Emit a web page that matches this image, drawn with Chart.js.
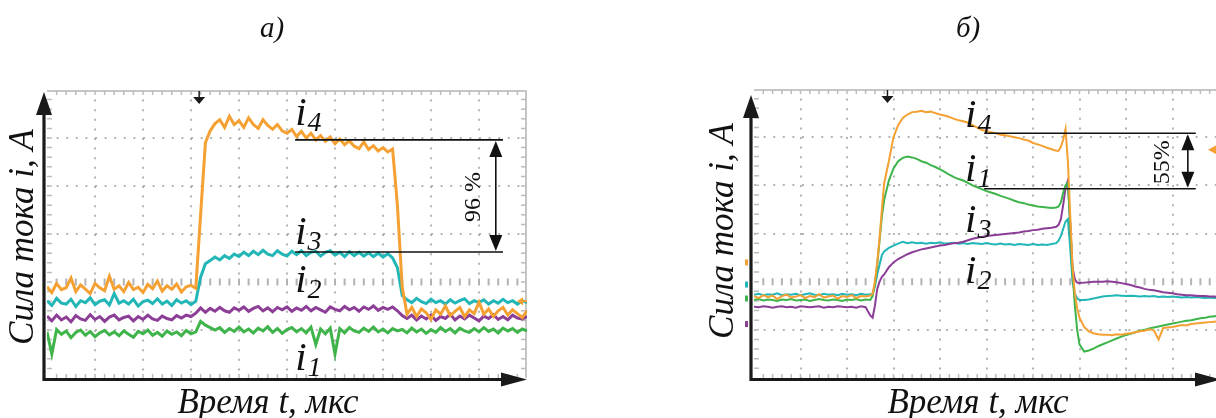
<!DOCTYPE html>
<html lang="ru"><head><meta charset="utf-8">
<script src="https://cdn.jsdelivr.net/npm/chart.js@4.4.1/dist/chart.umd.min.js"></script>
<style>
html,body{margin:0;padding:0;background:#fff;overflow:hidden;width:1216px;height:418px;position:relative}
canvas{position:absolute;top:0}
#cA{left:0}
#cB{left:700px}
</style></head><body>
<canvas id="cA" width="545" height="418"></canvas>
<canvas id="cB" width="520" height="418"></canvas>
<script>
// ---------- Panel а) : time in divisions, current in divisions ----------
const tA = Array.from({length:101}, (_, i) => Math.round(i) / 10);
const a_i4 = [1.90,1.78,1.97,1.84,1.88,2.08,1.80,1.94,1.85,1.76,1.97,1.88,1.82,2.12,1.85,1.92,1.80,1.99,1.84,1.89,1.78,1.95,1.86,2.02,1.81,1.92,1.85,1.96,1.79,1.90,1.93,1.87,
  3.40,4.90,5.15,5.30,5.38,5.22,5.45,5.28,5.36,5.22,5.42,5.28,5.20,5.38,5.26,5.18,5.28,5.15,5.10,5.18,5.03,5.14,5.00,5.10,4.96,5.05,4.93,5.02,4.88,4.98,4.86,4.94,4.83,4.78,4.92,4.76,4.84,4.73,4.80,4.71,4.77,
  3.60,1.90,1.33,1.47,1.28,1.44,1.36,1.22,1.42,1.33,1.50,1.30,1.39,1.47,1.28,1.42,1.34,1.58,1.33,1.44,1.28,1.40,1.47,1.31,1.42,1.34,1.26,1.40];
const a_i3 = [1.61,1.51,1.66,1.56,1.54,1.64,1.49,1.61,1.57,1.67,1.53,1.60,1.63,1.52,1.76,1.56,1.61,1.54,1.64,1.50,1.59,1.62,1.55,1.65,1.54,1.60,1.51,1.63,1.56,1.61,1.53,1.60,
  2.10,2.38,2.45,2.52,2.46,2.55,2.49,2.58,2.53,2.62,2.55,2.64,2.57,2.66,2.58,2.55,2.65,2.58,2.54,2.64,2.57,2.65,2.55,2.62,2.64,2.54,2.62,2.65,2.56,2.62,2.53,2.63,2.55,2.62,2.54,2.61,2.53,2.60,2.52,2.59,2.50,
  2.30,1.72,1.63,1.57,1.66,1.59,1.55,1.64,1.57,1.61,1.54,1.63,1.56,1.61,1.65,1.55,1.61,1.57,1.63,1.54,1.61,1.56,1.64,1.57,1.61,1.54,1.61,1.57];
const a_i2 = [1.29,1.19,1.31,1.21,1.27,1.17,1.30,1.23,1.20,1.32,1.22,1.28,1.18,1.27,1.31,1.21,1.26,1.29,1.19,1.28,1.22,1.31,1.23,1.20,1.29,1.24,1.21,1.30,1.25,1.31,1.28,1.35,
  1.46,1.37,1.45,1.39,1.47,1.40,1.37,1.46,1.41,1.48,1.39,1.45,1.49,1.40,1.46,1.38,1.47,1.42,1.48,1.39,1.46,1.41,1.49,1.40,1.47,1.42,1.37,1.48,1.43,1.40,1.49,1.42,1.47,1.39,1.48,1.43,1.50,1.41,1.47,1.43,1.48,
  1.40,1.30,1.24,1.31,1.21,1.29,1.23,1.31,1.20,1.28,1.24,1.33,1.21,1.29,1.23,1.31,1.25,1.19,1.29,1.24,1.32,1.22,1.28,1.21,1.31,1.25,1.23,1.28];
const a_i1 = [0.96,0.50,1.01,0.91,0.98,0.84,0.95,1.00,0.89,0.97,0.86,0.94,0.99,0.90,0.96,0.88,0.98,0.91,0.85,0.97,0.92,1.00,0.89,0.95,0.87,0.98,0.91,0.96,0.88,0.99,0.92,0.96,
  1.18,1.10,1.05,1.00,1.05,0.95,1.03,0.97,1.06,0.96,1.02,0.94,1.04,0.98,1.07,0.95,1.03,0.93,1.01,1.05,0.96,1.03,0.94,1.06,0.70,1.02,0.92,1.04,0.50,1.03,0.94,1.05,0.98,0.95,1.04,0.97,1.06,0.96,1.02,0.94,1.03,
  0.98,1.01,0.94,1.04,0.96,1.02,0.93,1.01,0.95,1.05,0.97,1.03,0.94,1.04,0.98,0.95,1.03,0.96,1.05,0.97,1.02,0.94,1.04,0.98,1.03,0.95,1.02,0.98];

// ---------- Panel б) ----------
const tB = [0,0.1,0.2,0.3,0.4,0.5,0.6,0.7,0.8,0.9,1.0,1.1,1.2,1.3,1.4,1.5,1.6,1.7,1.8,1.9,2.0,2.1,2.2,2.3,2.4,2.5,
  2.55,2.6,2.65,2.7,2.75,2.8,
  2.9,3.0,3.1,3.2,3.3,3.4,3.5,3.6,3.7,3.8,3.9,4.0,4.1,4.2,4.3,4.4,4.5,4.6,4.7,4.8,4.9,5.0,5.1,5.2,5.3,5.4,5.5,5.6,5.7,5.8,5.9,6.0,6.1,6.2,6.3,6.4,6.5,
  6.55,6.6,6.65,6.7,6.75,6.8,6.85,6.9,6.95,7.0,
  7.1,7.2,7.3,7.4,7.5,7.6,7.7,7.8,7.9,8.0,8.1,8.2,8.3,8.4,8.5,8.6,8.7,8.8,8.9,9.0,9.1,9.2,9.3,9.4,9.5,9.6,9.7,9.8,9.9,10.0];
const b_i4 = [1.70,1.66,1.72,1.68,1.71,1.64,1.70,1.73,1.67,1.69,1.72,1.66,1.70,1.68,1.74,1.67,1.69,1.71,1.65,1.70,1.68,1.72,1.66,1.70,1.69,1.71,
  1.75,2.00,2.40,2.90,3.50,4.05,
  4.50,5.00,5.25,5.40,5.47,5.52,5.53,5.55,5.52,5.53,5.50,5.47,5.45,5.42,5.38,5.35,5.33,5.30,5.25,5.20,5.15,5.13,5.10,5.08,5.05,5.04,5.02,5.00,4.98,4.95,4.93,4.88,4.85,4.82,4.78,4.75,4.72,
  4.72,4.80,4.95,5.17,4.50,3.40,2.30,1.75,1.45,1.25,
  1.06,0.97,0.93,0.91,0.90,0.90,0.89,0.91,0.90,0.92,0.93,0.95,0.97,0.98,1.01,0.99,0.80,1.04,1.05,1.06,1.08,1.10,1.09,1.12,1.13,1.14,1.15,1.16,1.17,1.18];
const b_i1 = [1.62,1.64,1.61,1.63,1.62,1.60,1.63,1.62,1.64,1.61,1.62,1.63,1.60,1.62,1.64,1.62,1.61,1.63,1.62,1.60,1.63,1.62,1.64,1.61,1.63,1.62,
  1.70,1.95,2.35,2.85,3.35,3.70,
  4.10,4.35,4.50,4.57,4.60,4.58,4.55,4.50,4.47,4.42,4.38,4.33,4.28,4.22,4.17,4.13,4.10,4.05,4.00,3.96,3.92,3.88,3.85,3.82,3.78,3.75,3.72,3.68,3.65,3.63,3.60,3.58,3.56,3.55,3.54,3.53,3.54,
  3.56,3.65,3.85,4.00,4.05,3.20,2.20,1.50,1.00,0.70,
  0.55,0.57,0.61,0.66,0.70,0.74,0.78,0.82,0.86,0.89,0.92,0.95,0.98,1.00,1.03,1.05,1.07,1.09,1.11,1.13,1.15,1.17,1.19,1.20,1.22,1.24,1.25,1.27,1.28,1.29];
const b_i2 = [1.48,1.47,1.49,1.48,1.46,1.48,1.49,1.47,1.48,1.46,1.49,1.48,1.47,1.48,1.49,1.46,1.48,1.47,1.49,1.48,1.47,1.48,1.46,1.49,1.47,1.30,
  1.25,1.50,1.85,2.00,2.10,2.15,
  2.30,2.40,2.47,2.52,2.57,2.61,2.64,2.67,2.69,2.71,2.73,2.75,2.76,2.78,2.80,2.81,2.83,2.86,2.89,2.91,2.93,2.95,2.96,2.97,2.98,2.99,3.00,3.01,3.02,3.04,3.05,3.07,3.08,3.10,3.11,3.12,3.14,
  3.18,3.30,3.60,3.95,4.10,3.20,2.30,2.05,1.98,1.97,
  1.98,1.99,2.00,2.00,2.00,2.01,2.00,1.99,1.97,1.95,1.93,1.90,1.88,1.85,1.83,1.82,1.80,1.78,1.77,1.76,1.74,1.73,1.72,1.72,1.71,1.70,1.70,1.69,1.69,1.68];
const b_i3 = [1.73,1.75,1.72,1.74,1.73,1.76,1.72,1.74,1.73,1.75,1.72,1.74,1.76,1.73,1.72,1.75,1.73,1.74,1.72,1.75,1.73,1.74,1.72,1.75,1.73,1.74,
  1.75,1.90,2.15,2.35,2.55,2.63,
  2.70,2.75,2.79,2.83,2.80,2.82,2.80,2.81,2.79,2.81,2.80,2.82,2.79,2.80,2.81,2.79,2.80,2.78,2.80,2.79,2.78,2.80,2.78,2.77,2.79,2.77,2.78,2.76,2.78,2.77,2.76,2.78,2.76,2.77,2.76,2.78,2.80,
  2.85,2.95,3.10,3.25,3.30,2.70,2.00,1.75,1.65,1.62,
  1.62,1.63,1.65,1.67,1.69,1.70,1.71,1.72,1.71,1.70,1.71,1.70,1.69,1.70,1.69,1.70,1.68,1.69,1.68,1.69,1.68,1.67,1.68,1.67,1.68,1.67,1.66,1.67,1.66,1.66];

// ---------- text ----------
const panelTitles = ['а)', 'б)'];
const yTitle = 'Сила тока i, A';
const xTitle = 'Время t, мкс';
const seriesNamesA = ['4', '3', '2', '1'];
const seriesNamesB = ['4', '1', '3', '2'];
const ratioA = '96 %';
const ratioB = '55%';

// ---------- styles / layout (kept apart from data) ----------
const COL = {orange:'#F5A032', teal:'#22B6B6', purple:'#8C3E97', green:'#3EB44B'};
const SERIF = '"Liberation Serif", "DejaVu Serif", serif';

const panelA = {
  t: tA,
  series: [
    {values:a_i4, color:COL.orange, order:0},
    {values:a_i3, color:COL.teal, order:1},
    {values:a_i2, color:COL.purple, order:2},
    {values:a_i1, color:COL.green, order:3}
  ],
  lw: 3,
  padding: {left:47, top:90, right:18, bottom:40},
  rightFrame: true,
  centerV: 2,
  yTipY: 92, xTipX: 527,
  trigT: 3.17,
  panelTitle: {text: panelTitles[0], x: 272, y: 37},
  yTitlePos: {x: 24, y: 237},
  xTitlePos: {x: 268, y: 411},
  labels: [
    {sub: seriesNamesA[0], t: 5.17, v: 5.27},
    {sub: seriesNamesA[1], t: 5.17, v: 2.79},
    {sub: seriesNamesA[2], t: 5.17, v: 1.79},
    {sub: seriesNamesA[3], t: 5.17, v: 0.17}
  ],
  measure: {v1: 4.96, v2: 2.625, t1: 5.17, t2: 9.5, tArrow: 9.35, tText: 8.88, vText: 3.77, text: ratioA},
  rightMarker: {v: 1.6, color: COL.orange, kind: 'arrow'},
  leftMarkers: []
};
const panelB = {
  t: tB,
  series: [
    {values:b_i4, color:COL.orange, order:0},
    {values:b_i1, color:COL.green, order:1},
    {values:b_i2, color:COL.purple, order:2},
    {values:b_i3, color:COL.teal, order:3}
  ],
  lw: 2,
  padding: {left:54, top:89, right:1, bottom:40},
  rightFrame: false,
  centerV: 2,
  yTipY: 95, xTipX: 521,
  trigT: 2.87,
  panelTitle: {text: panelTitles[1], x: 268, y: 37},
  yTitlePos: {x: 24, y: 231},
  xTitlePos: {x: 278, y: 411},
  labels: [
    {sub: seriesNamesB[0], t: 4.54, v: 5.21},
    {sub: seriesNamesB[1], t: 4.54, v: 4.08},
    {sub: seriesNamesB[2], t: 4.54, v: 3.04},
    {sub: seriesNamesB[3], t: 4.54, v: 1.98}
  ],
  measure: {v1: 5.08, v2: 3.93, t1: 4.95, t2: 9.5, tArrow: 9.33, tText: 8.8, vText: 4.48, text: ratioB},
  rightMarker: {v: 4.74, color: COL.orange, kind: 'tri'},
  leftMarkers: [
    {v: 2.4, color: COL.orange}, {v: 1.94, color: COL.teal},
    {v: 1.65, color: COL.green}, {v: 1.12, color: COL.purple}
  ]
};

function head(ctx, x, y, dir, len, half) {
  ctx.beginPath();
  ctx.moveTo(x, y);
  if (dir === 'up') { ctx.lineTo(x - half, y + len); ctx.lineTo(x + half, y + len); }
  if (dir === 'down') { ctx.lineTo(x - half, y - len); ctx.lineTo(x + half, y - len); }
  if (dir === 'right') { ctx.lineTo(x - len, y - half); ctx.lineTo(x - len, y + half); }
  if (dir === 'left') { ctx.lineTo(x + len, y - half); ctx.lineTo(x + len, y + half); }
  ctx.closePath(); ctx.fill();
}

function deco(cfg) {
  return {
    id: 'deco',
    beforeDatasetsDraw(chart) {
      const {ctx, chartArea: a, scales: {x, y}} = chart;
      ctx.save();
      ctx.strokeStyle = '#c6c6c6'; ctx.lineWidth = 2;
      ctx.beginPath();
      ctx.moveTo(a.left, a.top + 1); ctx.lineTo(a.right, a.top + 1);
      if (cfg.rightFrame) { ctx.moveTo(a.right - 1, a.top); ctx.lineTo(a.right - 1, a.bottom); }
      ctx.stroke();
      ctx.strokeStyle = '#bcbcbc'; ctx.lineWidth = 1.5;
      ctx.beginPath();
      for (let k = 1; k < 50; k++) {
        const px = x.getPixelForValue(k / 5);
        ctx.moveTo(px, a.top + 1); ctx.lineTo(px, a.top + 5);
        ctx.moveTo(px, a.bottom); ctx.lineTo(px, a.bottom - 4);
      }
      for (let k = 1; k < 30; k++) {
        const py = y.getPixelForValue(k / 5);
        ctx.moveTo(a.left, py); ctx.lineTo(a.left + 5, py);
        if (cfg.rightFrame) { ctx.moveTo(a.right - 1, py); ctx.lineTo(a.right - 6, py); }
      }
      ctx.stroke();
      const cy = y.getPixelForValue(cfg.centerV);
      ctx.strokeStyle = '#b3b3b3'; ctx.lineWidth = 2;
      ctx.beginPath();
      for (let k = 1; k < 50; k++) {
        const px = x.getPixelForValue(k / 5);
        ctx.moveTo(px, cy - 3.5); ctx.lineTo(px, cy + 3.5);
      }
      ctx.stroke();
      ctx.restore();
    },
    afterDatasetsDraw(chart) {
      const {ctx, chartArea: a, scales: {x, y}} = chart;
      ctx.save();
      // axes
      ctx.strokeStyle = '#1a1a1a'; ctx.fillStyle = '#1a1a1a'; ctx.lineWidth = 3.2;
      const ax = a.left - 3, ay = a.bottom + 1.5;
      ctx.beginPath();
      ctx.moveTo(ax, ay + 1.5); ctx.lineTo(ax, cfg.yTipY + 18);
      ctx.moveTo(ax - 1.5, ay); ctx.lineTo(cfg.xTipX - 20, ay);
      ctx.stroke();
      head(ctx, ax, cfg.yTipY, 'up', 23, 8);
      head(ctx, cfg.xTipX, ay, 'right', 26, 7);
      // trigger arrow
      const tx = x.getPixelForValue(cfg.trigT);
      ctx.lineWidth = 1.5;
      ctx.beginPath(); ctx.moveTo(tx, a.top + 1); ctx.lineTo(tx, a.top + 8); ctx.stroke();
      head(ctx, tx, a.top + 14, 'down', 7, 6);
      // markers
      const rm = cfg.rightMarker;
      ctx.fillStyle = rm.color; ctx.strokeStyle = rm.color;
      const ry = y.getPixelForValue(rm.v);
      if (rm.kind === 'arrow') {
        head(ctx, a.right - 10, ry, 'left', 6, 4);
        ctx.lineWidth = 2; ctx.beginPath(); ctx.moveTo(a.right - 6, ry); ctx.lineTo(a.right, ry); ctx.stroke();
      } else {
        head(ctx, a.right - 11, ry, 'left', 11, 6);
      }
      cfg.leftMarkers.forEach(m => {
        ctx.fillStyle = m.color;
        ctx.fillRect(a.left - 9, y.getPixelForValue(m.v) - 3, 3, 6);
      });
      // measurement
      const M = cfg.measure;
      const y1 = y.getPixelForValue(M.v1), y2 = y.getPixelForValue(M.v2);
      const x1 = x.getPixelForValue(M.t1), x2 = x.getPixelForValue(M.t2), xa = x.getPixelForValue(M.tArrow);
      ctx.strokeStyle = '#111'; ctx.fillStyle = '#111'; ctx.lineWidth = 1.6;
      ctx.beginPath();
      ctx.moveTo(x1, y1); ctx.lineTo(x2, y1);
      ctx.moveTo(x1, y2); ctx.lineTo(x2, y2);
      ctx.moveTo(xa, y1 + 10); ctx.lineTo(xa, y2 - 10);
      ctx.stroke();
      head(ctx, xa, y1 + 1, 'up', 16, 6.5);
      head(ctx, xa, y2 - 1, 'down', 16, 6.5);
      ctx.save();
      ctx.translate(x.getPixelForValue(M.tText), y.getPixelForValue(M.vText));
      ctx.rotate(-Math.PI / 2);
      ctx.font = '24px ' + SERIF; ctx.textAlign = 'center'; ctx.textBaseline = 'middle';
      ctx.fillText(M.text, 0, 0);
      ctx.restore();
      // series labels
      ctx.fillStyle = '#111';
      ctx.textAlign = 'left'; ctx.textBaseline = 'alphabetic';
      cfg.labels.forEach(L => {
        const lx = x.getPixelForValue(L.t), ly = y.getPixelForValue(L.v);
        ctx.font = 'italic 41px ' + SERIF;
        ctx.fillText('i', lx, ly);
        const w = ctx.measureText('i').width;
        ctx.font = 'italic 28px ' + SERIF;
        ctx.fillText(L.sub, lx + w + 1, ly + 6);
      });
      // titles
      ctx.textAlign = 'center';
      ctx.font = 'italic 29px ' + SERIF;
      ctx.fillText(cfg.panelTitle.text, cfg.panelTitle.x, cfg.panelTitle.y);
      ctx.font = 'italic 35px ' + SERIF;
      ctx.fillText(xTitle, cfg.xTitlePos.x, cfg.xTitlePos.y + 2);
      ctx.save();
      ctx.translate(cfg.yTitlePos.x, cfg.yTitlePos.y);
      ctx.rotate(-Math.PI / 2);
      ctx.textBaseline = 'middle';
      ctx.fillText(yTitle, 0, 0);
      ctx.restore();
      ctx.restore();
    }
  };
}

function makePanel(id, cfg) {
  const gridColor = (edges) => (c) => (edges.includes(c.tick.value) ? 'rgba(0,0,0,0)' : '#b4b4b4');
  return new Chart(document.getElementById(id), {
    type: 'line',
    data: {
      datasets: cfg.series.map(s => ({
        data: cfg.t.map((tv, i) => ({x: tv, y: s.values[i]})),
        borderColor: s.color, borderWidth: cfg.lw, pointRadius: 0,
        tension: 0, fill: false, order: s.order, stepped: false
      }))
    },
    options: {
      responsive: false, animation: false, devicePixelRatio: 1,
      layout: {padding: cfg.padding, autoPadding: false},
      plugins: {legend: {display: false}, tooltip: {enabled: false}},
      scales: {
        x: {type: 'linear', min: 0, max: 10,
            ticks: {display: false, stepSize: 1},
            grid: {color: gridColor([0, 10]), lineWidth: 2, drawTicks: false},
            border: {display: false, dash: [2, 7.6]}},
        y: {type: 'linear', min: 0, max: 6,
            ticks: {display: false, stepSize: 1},
            grid: {color: gridColor([0, 6, cfg.centerV]), lineWidth: 2, drawTicks: false},
            border: {display: false, dash: [2, 7.6]}}
      }
    },
    plugins: [deco(cfg)]
  });
}

makePanel('cA', panelA);
makePanel('cB', panelB);
</script>
</body></html>
